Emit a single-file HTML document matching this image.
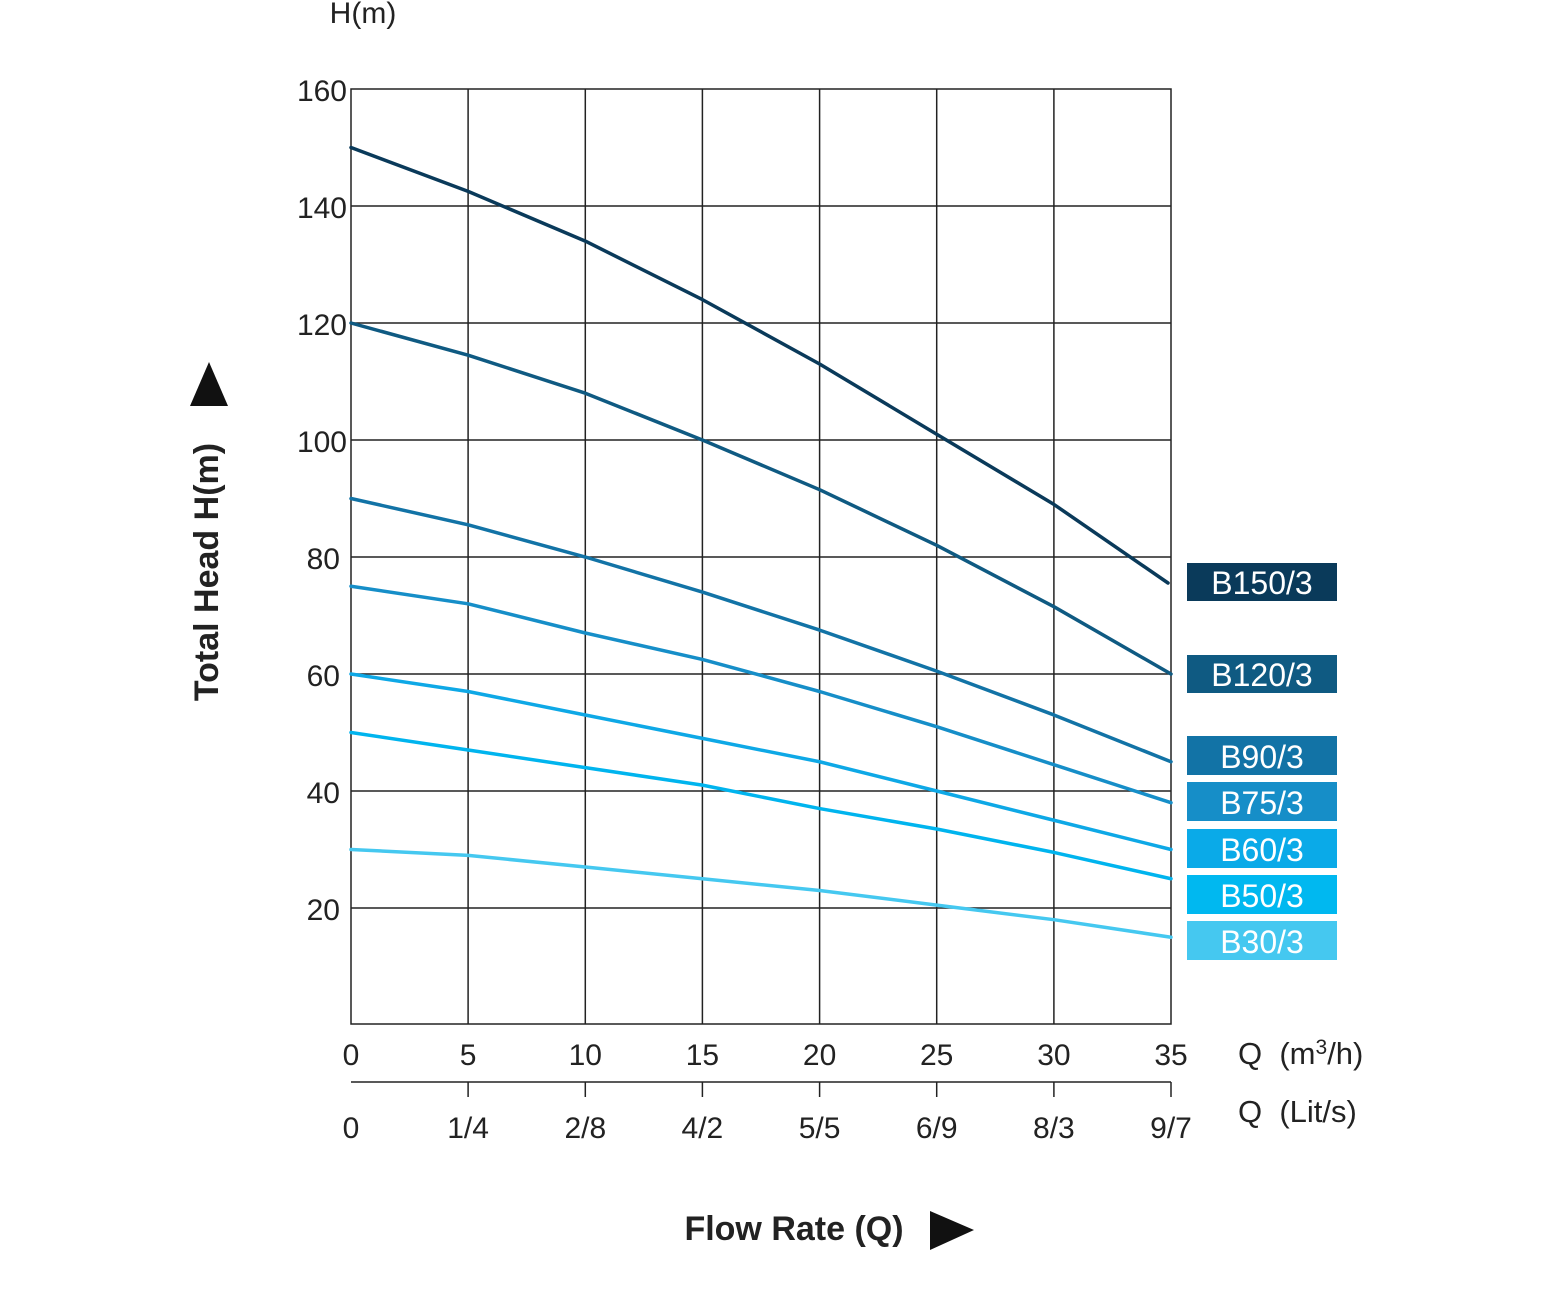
<!DOCTYPE html>
<html><head><meta charset="utf-8"><style>
html,body{margin:0;padding:0;background:#fff;}
svg{display:block;font-family:"Liberation Sans",Arial,sans-serif;}
</style></head><body>
<svg width="1561" height="1292" viewBox="0 0 1561 1292" xmlns="http://www.w3.org/2000/svg">
<g stroke="#222" stroke-width="1.5" fill="none">
<rect x="351" y="89" width="820" height="935"/>
<line x1="468.1" y1="89" x2="468.1" y2="1024"/>
<line x1="585.3" y1="89" x2="585.3" y2="1024"/>
<line x1="702.4" y1="89" x2="702.4" y2="1024"/>
<line x1="819.6" y1="89" x2="819.6" y2="1024"/>
<line x1="936.7" y1="89" x2="936.7" y2="1024"/>
<line x1="1053.9" y1="89" x2="1053.9" y2="1024"/>
<line x1="351" y1="206" x2="1171" y2="206"/>
<line x1="351" y1="323" x2="1171" y2="323"/>
<line x1="351" y1="440" x2="1171" y2="440"/>
<line x1="351" y1="557" x2="1171" y2="557"/>
<line x1="351" y1="674" x2="1171" y2="674"/>
<line x1="351" y1="791" x2="1171" y2="791"/>
<line x1="351" y1="908" x2="1171" y2="908"/>
<line x1="351" y1="1082" x2="1171" y2="1082"/>
<line x1="468.1" y1="1082" x2="468.1" y2="1097"/>
<line x1="585.3" y1="1082" x2="585.3" y2="1097"/>
<line x1="702.4" y1="1082" x2="702.4" y2="1097"/>
<line x1="819.6" y1="1082" x2="819.6" y2="1097"/>
<line x1="936.7" y1="1082" x2="936.7" y2="1097"/>
<line x1="1053.9" y1="1082" x2="1053.9" y2="1097"/>
<line x1="1171" y1="1082" x2="1171" y2="1097"/>
</g>
<g fill="none" stroke-width="3.5" stroke-linejoin="round" stroke-linecap="round">
<polyline stroke="#45c8f0" points="351,849.5 468.1,855.35 585.3,867 702.4,878.75 819.6,890.5 936.7,905.1 1053.9,919.7 1171,937.25"/>
<polyline stroke="#00b4ee" points="351,732.5 468.1,750 585.3,767.6 702.4,785.15 819.6,808.55 936.7,829 1053.9,852.4 1171,878.75"/>
<polyline stroke="#0ea8e6" points="351,674 468.1,691.5 585.3,715 702.4,738.4 819.6,761.75 936.7,791 1053.9,820.25 1171,849.5"/>
<polyline stroke="#168ec8" points="351,586.25 468.1,603.8 585.3,633 702.4,659.4 819.6,691.5 936.7,726.7 1053.9,764.7 1171,802.7"/>
<polyline stroke="#1273a6" points="351,498.5 468.1,524.8 585.3,557 702.4,592.1 819.6,630.1 936.7,671.1 1053.9,714.95 1171,761.75"/>
<polyline stroke="#0f5a82" points="351,323 468.1,355.2 585.3,393.2 702.4,440 819.6,489.7 936.7,545.3 1053.9,606.7 1171,674"/>
<polyline stroke="#0a3a5a" points="351,147.5 468.1,191.4 585.3,241.1 702.4,299.6 819.6,364 936.7,434.2 1053.9,504.4 1168,583"/>
</g>
<g font-size="30" fill="#222">
<text x="363" y="23" text-anchor="middle">H(m)</text>
<g text-anchor="end">
<text x="347" y="101">160</text>
<text x="347" y="218">140</text>
<text x="347" y="335">120</text>
<text x="347" y="452">100</text>
<text x="340" y="569">80</text>
<text x="340" y="686">60</text>
<text x="340" y="803">40</text>
<text x="340" y="920">20</text>
</g>
<g text-anchor="middle">
<text x="351" y="1065">0</text>
<text x="468.1" y="1065">5</text>
<text x="585.3" y="1065">10</text>
<text x="702.4" y="1065">15</text>
<text x="819.6" y="1065">20</text>
<text x="936.7" y="1065">25</text>
<text x="1053.9" y="1065">30</text>
<text x="1171" y="1065">35</text>
<text x="351" y="1138">0</text>
<text x="468.1" y="1138">1/4</text>
<text x="585.3" y="1138">2/8</text>
<text x="702.4" y="1138">4/2</text>
<text x="819.6" y="1138">5/5</text>
<text x="936.7" y="1138">6/9</text>
<text x="1053.9" y="1138">8/3</text>
<text x="1171" y="1138">9/7</text>
</g>
<text x="1238" y="1064" font-size="31">Q&#160;&#160;(m<tspan font-size="21" dy="-10">3</tspan><tspan dy="10">/h)</tspan></text>
<text x="1238" y="1122" font-size="31">Q&#160;&#160;(Lit/s)</text>
</g>
<text x="0" y="0" font-size="34" font-weight="bold" fill="#222" text-anchor="middle" transform="translate(218,572) rotate(-90)">Total Head H(m)</text>
<polygon points="209,362 190,406 228,406" fill="#111"/>
<text x="794" y="1240" font-size="34" font-weight="bold" fill="#222" text-anchor="middle">Flow Rate (Q)</text>
<polygon points="930,1211 974,1230 930,1250" fill="#111"/>
<g font-size="32" fill="#fff" text-anchor="middle">
<rect x="1187" y="563" width="150" height="38" fill="#0a3a5a"/><text x="1262" y="594">B150/3</text>
<rect x="1187" y="655" width="150" height="38" fill="#0f5a82"/><text x="1262" y="686">B120/3</text>
<rect x="1187" y="736" width="150" height="39" fill="#1273a6"/><text x="1262" y="768">B90/3</text>
<rect x="1187" y="782" width="150" height="39" fill="#168ec8"/><text x="1262" y="814">B75/3</text>
<rect x="1187" y="829" width="150" height="39" fill="#0aaae8"/><text x="1262" y="861">B60/3</text>
<rect x="1187" y="875" width="150" height="39" fill="#00b8f0"/><text x="1262" y="907">B50/3</text>
<rect x="1187" y="921" width="150" height="39" fill="#45c8f0"/><text x="1262" y="953">B30/3</text>
</g>
</svg>
</body></html>
